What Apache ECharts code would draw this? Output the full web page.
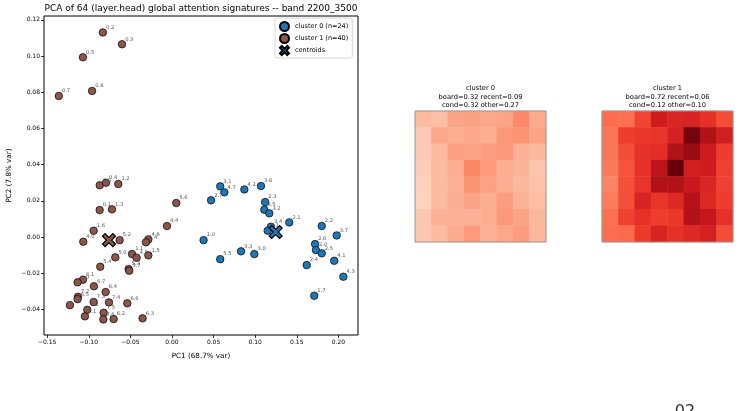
<!DOCTYPE html>
<html><head><meta charset="utf-8">
<script src="https://cdn.jsdelivr.net/npm/echarts@6/dist/echarts.min.js"></script>
<style>html,body{margin:0;padding:0;background:#fff}#c{width:741px;height:411px}</style>
</head><body><div id="c"></div>
<script>
// ---------- data ----------
const xTicks = [-0.15, -0.10, -0.05, 0.00, 0.05, 0.10, 0.15, 0.20];
const yTicks = [-0.04, -0.02, 0.00, 0.02, 0.04, 0.06, 0.08, 0.10, 0.12];

const c0Labels = ['3.1','4.7','4.2','3.6','2.7','2.3','3.5','3.2','2.1','3.4','5.1','2.2','3.7','1.0','2.6','2.0','2.5','3.3','3.0','5.5','4.1','2.4','4.3','1.7'];
const c0X = [0.058,0.063,0.087,0.107,0.047,0.112,0.111,0.117,0.141,0.119,0.115,0.180,0.198,0.038,0.172,0.173,0.180,0.083,0.099,0.058,0.195,0.162,0.206,0.171];
const c0Y = [0.0280,0.0247,0.0263,0.0282,0.0203,0.0193,0.0151,0.0131,0.0081,0.0057,0.0035,0.0061,0.0009,-0.0017,-0.0039,-0.0072,-0.0090,-0.0079,-0.0094,-0.0122,-0.0131,-0.0155,-0.0219,-0.0324];

const c1Labels = ['0.2','0.3','0.5','0.7','0.6','0.0','0.4','1.2','0.1','1.3','1.6','4.0','5.2','4.4','5.6','4.6','1.4','1.1','4.5','1.5','5.0','5.4','5.3','5.7','6.1','6.0','6.7','6.4','7.7','6.5','7.3','7.4','6.6','7.0','7.2','7.5','7.1','7.6','6.2','6.3'];
const c1X = [-0.083,-0.060,-0.107,-0.136,-0.096,-0.0868,-0.0793,-0.0645,-0.0869,-0.0721,-0.0941,-0.1066,-0.0629,-0.0060,0.0052,-0.0284,-0.0313,-0.0480,-0.0425,-0.0284,-0.0681,-0.0862,-0.0521,-0.0513,-0.1070,-0.1134,-0.0938,-0.0797,-0.1130,-0.1134,-0.0941,-0.0757,-0.0537,-0.1226,-0.1018,-0.0821,-0.1046,-0.0825,-0.0701,-0.0353];
const c1Y = [0.1130,0.1065,0.0993,0.0779,0.0807,0.0286,0.0300,0.0293,0.0149,0.0153,0.0035,-0.0026,-0.0017,0.0061,0.0188,-0.0013,-0.0029,-0.0094,-0.0114,-0.0101,-0.0112,-0.0164,-0.0177,-0.0186,-0.0236,-0.0250,-0.0272,-0.0304,-0.0330,-0.0343,-0.0359,-0.0361,-0.0366,-0.0376,-0.0402,-0.0418,-0.0438,-0.0455,-0.0453,-0.0449];

const centroidX = [0.1246, -0.0757];
const centroidY = [0.0028, -0.0017];

const heat0 = [
 [0.25,0.24,0.32,0.33,0.31,0.32,0.40,0.30],
 [0.20,0.31,0.29,0.31,0.29,0.36,0.37,0.32],
 [0.20,0.25,0.33,0.32,0.34,0.36,0.28,0.26],
 [0.19,0.25,0.29,0.41,0.35,0.29,0.27,0.22],
 [0.18,0.25,0.28,0.37,0.33,0.29,0.26,0.23],
 [0.17,0.25,0.29,0.32,0.29,0.34,0.27,0.24],
 [0.21,0.28,0.28,0.28,0.29,0.36,0.32,0.26],
 [0.21,0.25,0.30,0.35,0.28,0.31,0.34,0.26]
];
const heat1 = [
 [0.49,0.48,0.60,0.74,0.70,0.71,0.66,0.58],
 [0.46,0.62,0.64,0.65,0.72,0.97,0.84,0.73],
 [0.46,0.58,0.66,0.67,0.84,0.90,0.74,0.62],
 [0.45,0.56,0.66,0.80,1.00,0.73,0.74,0.61],
 [0.42,0.57,0.65,0.84,0.83,0.75,0.70,0.61],
 [0.44,0.57,0.71,0.65,0.69,0.82,0.69,0.62],
 [0.48,0.61,0.66,0.62,0.64,0.83,0.76,0.66],
 [0.49,0.50,0.63,0.71,0.66,0.69,0.72,0.58]
];
const heatTitles = [
 'cluster 0\nboard=0.32 recent=0.09\ncond=0.32 other=0.27',
 'cluster 1\nboard=0.72 recent=0.06\ncond=0.12 other=0.10'
];
const mainTitle = 'PCA of 64 (layer.head) global attention signatures -- band 2200_3500';
const xName = 'PC1 (68.7% var)';
const yName = 'PC2 (7.8% var)';
const seriesNames = ['cluster 0 (n=24)', 'cluster 1 (n=40)', 'centroids'];

// ---------- chart ----------
const FONT = 'DejaVu Sans';
const BLUE = '#1f77b4', BROWN = '#8c564b';
const XPATH = 'path://M2 0 L5 3 L8 0 L10 2 L7 5 L10 8 L8 10 L5 7 L2 10 L0 8 L3 5 L0 2 Z';
const REDS = ['#fff5f0','#fee0d2','#fcbba1','#fc9272','#fb6a4a','#ef3b2c','#cb181d','#a50f15','#67000d'];

const fmt = v => (v < 0 ? '\u2212' : '') + Math.abs(v).toFixed(2);
const pts = (xs, ys, ls) => xs.map((x, i) => [x, ys[i], ls[i]]);
const heatData = m => { const d = []; m.forEach((row, r) => row.forEach((v, c) => d.push([c, r, v]))); return d; };
const idx8 = ['0','1','2','3','4','5','6','7'];

const ptLabel = {
  show: true, formatter: p => p.data[2], position: 'right', distance: 0, offset: [-1, -5],
  fontSize: 5.2, color: '#555', fontFamily: FONT
};

const chart = echarts.init(document.getElementById('c'), null, { renderer: 'canvas' });
chart.setOption({
  animation: false,
  textStyle: { fontFamily: FONT },
  grid: [
    { left: 44, top: 16, width: 314, height: 319, show: true, borderColor: '#000', borderWidth: 1, backgroundColor: 'transparent' },
    { left: 415, top: 111, width: 131, height: 131 },
    { left: 602, top: 111, width: 131, height: 131 }
  ],
  xAxis: [
    { gridIndex: 0, type: 'value', min: -0.1538, max: 0.2236, position: 'bottom',
      name: xName, nameLocation: 'middle', nameGap: 18,
      nameTextStyle: { fontSize: 7.2, color: '#000', fontFamily: FONT },
      axisLine: { show: false, onZero: false }, splitLine: { show: false },
      axisTick: { show: true, length: 3, lineStyle: { color: '#000', width: 0.8 }, customValues: xTicks },
      axisLabel: { fontSize: 6, color: '#000', margin: 4, formatter: fmt, customValues: xTicks, fontFamily: FONT } },
    { gridIndex: 1, type: 'category', data: idx8, show: false },
    { gridIndex: 2, type: 'category', data: idx8, show: false }
  ],
  yAxis: [
    { gridIndex: 0, type: 'value', min: -0.0541, max: 0.1221, position: 'left',
      name: yName, nameLocation: 'middle', nameGap: 31,
      nameTextStyle: { fontSize: 7.2, color: '#000', fontFamily: FONT },
      axisLine: { show: false, onZero: false }, splitLine: { show: false },
      axisTick: { show: true, length: 3, lineStyle: { color: '#000', width: 0.8 }, customValues: yTicks },
      axisLabel: { fontSize: 6, color: '#000', margin: 4, formatter: fmt, customValues: yTicks, fontFamily: FONT } },
    { gridIndex: 1, type: 'category', data: idx8, inverse: true, show: false },
    { gridIndex: 2, type: 'category', data: idx8, inverse: true, show: false }
  ],
  visualMap: [
    { show: false, min: 0, max: 1, seriesIndex: [3, 4], inRange: { color: REDS } }
  ],
  legend: {
    left: 275, top: 18, orient: 'vertical', itemGap: 1, itemWidth: 11, itemHeight: 9,
    padding: [3, 4, 2, 4], borderColor: '#ccc', borderWidth: 0.8, borderRadius: 2,
    backgroundColor: '#fff',
    textStyle: { fontSize: 6.5, color: '#000', fontFamily: FONT },
    data: [
      { name: seriesNames[0], icon: 'circle' },
      { name: seriesNames[1], icon: 'circle' },
      { name: seriesNames[2], icon: XPATH }
    ]
  },
  series: [
    { name: seriesNames[0], type: 'scatter', xAxisIndex: 0, yAxisIndex: 0, symbol: 'circle', symbolSize: 7.5,
      itemStyle: { color: BLUE, borderColor: '#000', borderWidth: 0.7, opacity: 1 },
      label: ptLabel, data: pts(c0X, c0Y, c0Labels), z: 3 },
    { name: seriesNames[1], type: 'scatter', xAxisIndex: 0, yAxisIndex: 0, symbol: 'circle', symbolSize: 7.5,
      itemStyle: { color: BROWN, borderColor: '#000', borderWidth: 0.7, opacity: 1 },
      label: ptLabel, data: pts(c1X, c1Y, c1Labels), z: 3 },
    { name: seriesNames[2], type: 'scatter', xAxisIndex: 0, yAxisIndex: 0, symbol: XPATH, symbolSize: 13,
      itemStyle: { color: BLUE, borderColor: '#000', borderWidth: 1.2, opacity: 1 },
      data: [
        { value: [centroidX[0], centroidY[0]] },
        { value: [centroidX[1], centroidY[1]], itemStyle: { color: BROWN } }
      ], z: 4 },
    { type: 'heatmap', xAxisIndex: 1, yAxisIndex: 1, data: heatData(heat0) },
    { type: 'heatmap', xAxisIndex: 2, yAxisIndex: 2, data: heatData(heat1) }
  ],
  graphic: [
    { type: 'text', x: 201, y: 4, style: { text: mainTitle, fill: '#000', textAlign: 'center', font: '9px "DejaVu Sans"' } },
    { type: 'text', x: 480.5, y: 84.5, style: { text: heatTitles[0], fill: '#000', textAlign: 'center', font: '6.7px "DejaVu Sans"', lineHeight: 8.5 } },
    { type: 'text', x: 667.5, y: 84.5, style: { text: heatTitles[1], fill: '#000', textAlign: 'center', font: '6.7px "DejaVu Sans"', lineHeight: 8.5 } },
    { type: 'rect', shape: { x: 415, y: 111, width: 131, height: 131 }, style: { fill: 'none', stroke: '#999', lineWidth: 1 }, z: 100 },
    { type: 'rect', shape: { x: 602, y: 111, width: 131, height: 131 }, style: { fill: 'none', stroke: '#999', lineWidth: 1 }, z: 100 },
    { type: 'text', x: 685, y: 404, style: { text: '02', fill: '#333', textAlign: 'center', font: '16px "DejaVu Sans"' } }
  ]
});
</script>
</body></html>
